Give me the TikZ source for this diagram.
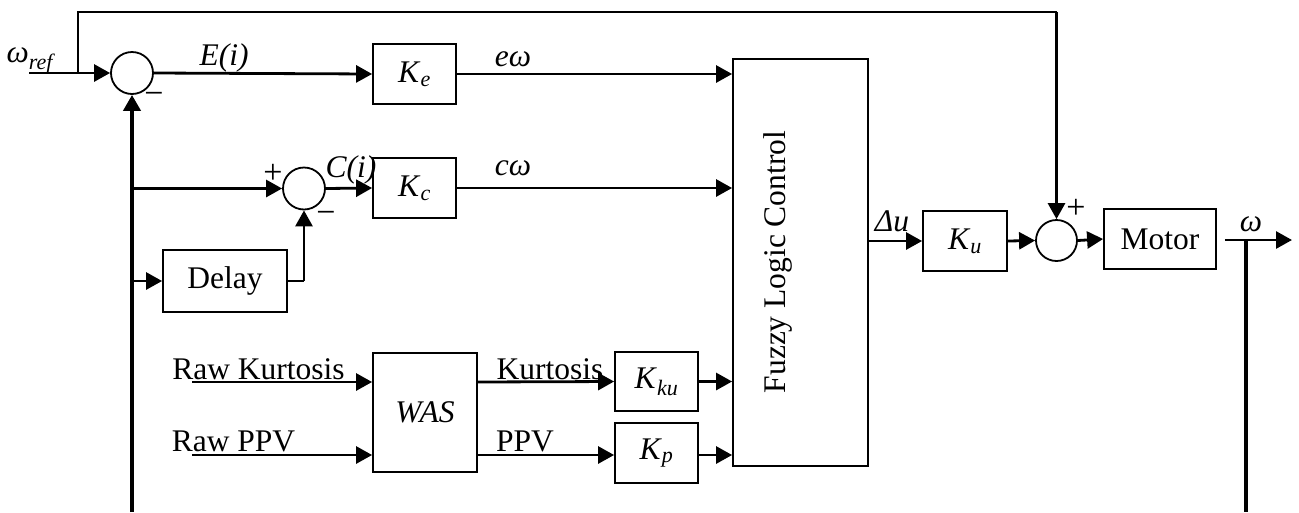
\documentclass[tikz,border=0pt]{standalone}
\usepackage{fontspec}
\setmainfont{Liberation Serif}
\usetikzlibrary{arrows.meta}
\begin{document}
\begin{tikzpicture}[x=1pt,y=-1pt,
  font=\fontsize{31.5}{36}\selectfont,
  blk/.style={draw, line width=1.8pt, inner sep=0pt},
  sumc/.style={draw, circle, line width=1.8pt, inner sep=0pt, minimum size=42pt},
  sig/.style={line width=2.8pt, -{Triangle[length=16pt,width=17pt]}},
  fb/.style={line width=4pt},
  fbarr/.style={line width=4pt, -{Triangle[length=16pt,width=17pt]}},
  lbl/.style={inner sep=0pt},
  sgn/.style={inner sep=0pt, font=\fontsize{34}{36}\selectfont}]
\useasboundingbox (0,0) rectangle (1299,512);

% blocks
\node[sumc] (s1) at (132,73) {};
\node[sumc] (s2) at (304,188.5) {};
\node[sumc, minimum size=41pt] (s3) at (1056.5,240.5) {};
\node[blk, minimum width=83pt, minimum height=60pt] (ke) at (414.5,74) {\textit{K}\textsubscript{\textit{e}}};
\node[blk, minimum width=83pt, minimum height=60pt] (kc) at (414.5,188) {\textit{K}\textsubscript{\textit{c}}};
\node[blk, minimum width=124pt, minimum height=62pt] (delay) at (225,281) {Delay};
\node[blk, minimum width=104pt, minimum height=119pt] (was) at (425,412.5) {\textit{WAS}};
\node[blk, minimum width=83pt, minimum height=59pt] (kku) at (656.5,381.5) {\textit{K}\textsubscript{\textit{ku}}};
\node[blk, minimum width=83pt, minimum height=60pt] (kp) at (656.5,453) {\textit{K}\textsubscript{\textit{p}}};
\node[blk, minimum width=135pt, minimum height=407pt] (flc) at (800.5,262.5) {};
\node[lbl, rotate=90] (flctext) at (778,262) {Fuzzy Logic Control};
\node[blk, minimum width=84pt, minimum height=60pt] (ku) at (965,241) {\textit{K}\textsubscript{\textit{u}}};
\node[blk, minimum width=112pt, minimum height=60pt] (motor) at (1160,239) {Motor};

% coordinates
\coordinate (inp) at (29,73);
\coordinate (br1) at (78,73);
\coordinate (top) at (78,12);
\coordinate (fbB) at (132,512);
\coordinate (fbC) at (132,188.5);
\coordinate (fbD) at (132,281);
\coordinate (rk) at (192,382);
\coordinate (rp) at (192,455);
\coordinate (outB) at (1292,240);
\coordinate (outV) at (1246,240);
\coordinate (outBot) at (1246,512);

% top path
\draw[sig] (inp) -- (s1.west);
\draw[line width=2.8pt] (br1) -- (top) -- (top -| s3.north);
\draw[sig] (top -| s3.north) -- (s3.north);

% main error path
\draw[sig] (s1.east) -- (ke.west);
\draw[sig] (ke.east) -- (ke.east -| flc.west);

% feedback
\draw[fbarr] (fbB) -- (s1.south);
\draw[sig] (fbC) -- (s2.west);
\draw[sig] (fbD) -- (delay.west);
\draw[line width=2.8pt] (delay.east) -- (delay.east -| s2.south);
\draw[sig] (delay.east -| s2.south) -- (s2.south);
\draw[sig] (s2.east) -- (kc.west);
\draw[sig] (kc.east) -- (kc.east -| flc.west);

% WAS
\draw[sig] (rk) -- (rk -| was.west);
\draw[sig] (rp) -- (rp -| was.west);
\draw[sig] (rk -| was.east) -- (kku.west);
\draw[sig] (rp -| was.east) -- (rp -| kp.west);
\draw[sig] (kku.east) -- (kku.east -| flc.west);
\draw[sig] (rp -| kp.east) -- (rp -| flc.west);

% output side
\draw[sig] (flc.east |- ku.west) -- (ku.west);
\draw[sig] (ku.east) -- (s3.west);
\draw[sig] (s3.east) -- (motor.west);
\draw[sig, shorten <=8pt] (motor.east |- outB) -- (outB);
\draw[fb] (outV) -- (outBot);

% labels
\node[lbl] (lref) at (31,61) {\textit{ω}\textsubscript{\textit{ref}}};
\node[lbl] (lE) at (224,58) {\textit{E(i)}};
\node[lbl] (lC) at (351,170) {\textit{C(i)}};
\node[lbl] (lew) at (513,59) {\textit{eω}};
\node[lbl] (lcw) at (513,168) {\textit{cω}};
\node[lbl] (lrk) at (258.5,369) {Raw Kurtosis};
\node[lbl] (lrp) at (233.5,441) {Raw PPV};
\node[lbl] (lk) at (550,369) {Kurtosis};
\node[lbl] (lp) at (525,441) {PPV};
\node[lbl] (ldu) at (892,221) {\textit{Δu}};
\node[lbl] (lw) at (1251,224) {\textit{ω}};

% signs
\node[sgn] (m1) at (154,98) {−};
\node[sgn] (p2) at (273,174) {+};
\node[sgn] (m2) at (326,217) {−};
\node[sgn] (p3) at (1076,209) {+};
\end{tikzpicture}
\end{document}
